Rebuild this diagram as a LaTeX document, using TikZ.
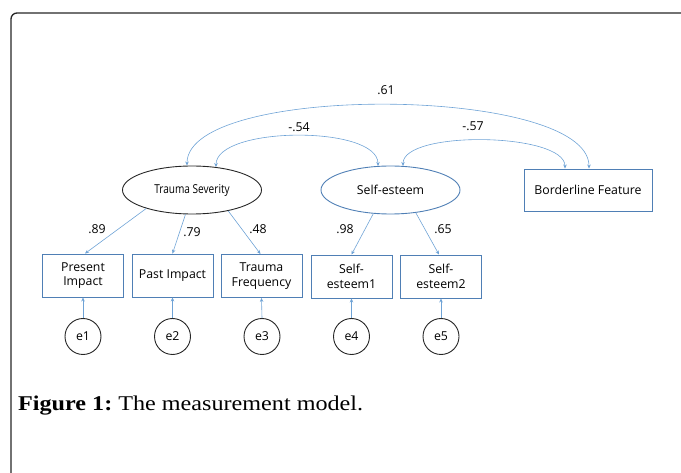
\documentclass[tikz,border=0pt]{standalone}
\usepackage{fontspec}
\setmainfont{Liberation Serif}
\newfontfamily\diag{Open Sans}
\usetikzlibrary{shapes.geometric,arrows.meta}
\definecolor{boxblue}{HTML}{4F7FB5}
\definecolor{arrblue}{HTML}{6FA3D6}
\tikzset{
  obs/.style={draw=boxblue, line width=0.9pt, minimum width=81pt, minimum height=43pt, align=center, font=\diag\fontsize{12.3}{14.5}\selectfont, inner sep=1pt},
  lat/.style={ellipse, line width=0.9pt, minimum width=139pt, minimum height=48pt, font=\diag\fontsize{12.3}{14.5}\selectfont, inner sep=0pt},
  err/.style={circle, draw=black!85, line width=0.9pt, minimum size=36pt, inner sep=0pt, font=\diag\fontsize{12.3}{14.5}\selectfont},
  conn/.style={draw=arrblue, line width=0.6pt, -{Stealth[length=4pt,width=3.5pt]}},
  cov/.style={draw=arrblue, line width=0.6pt, {Stealth[length=4pt,width=3.5pt]}-{Stealth[length=4pt,width=3.5pt]}},
  lbl/.style={font=\diag\fontsize{12.3}{14.5}\selectfont, inner sep=0pt}
}
\begin{document}
\begin{tikzpicture}[x=1pt,y=-1pt]
\useasboundingbox (0,0) rectangle (681,473);
% frame
\draw[line width=1.3pt, black!85, rounded corners=6pt] (11,473) -- (11,13) -- (681,13);
% latent
\node[lat, draw=black!85] (ts) at (192,190) {\scalebox{0.82}[1]{Trauma Severity}};
\node[lat, draw=boxblue] (se) at (390.5,190) {Self-esteem};
\node[obs, minimum width=128pt, minimum height=42pt] (bf) at (588,190) {Borderline Feature};
% observed
\node[obs] (pi) at (83,275.5) {Present\\Impact};
\node[obs] (pa) at (172.5,275.5) {Past Impact};
\node[obs] (tf) at (261.5,276) {Trauma\\Frequency};
\node[obs] (s1) at (351.5,276.5) {Self-\\esteem1};
\node[obs] (s2) at (441,276.5) {Self-\\esteem2};
% errors
\node[err] (e1) at (83,336.5) {e1};
\node[err] (e2) at (172.5,336.5) {e2};
\node[err] (e3) at (262,336.5) {e3};
\node[err] (e4) at (351.5,336.5) {e4};
\node[err] (e5) at (441,336.5) {e5};
% error arrows
\foreach \e/\o in {e1/pi,e2/pa,e3/tf,e4/s1,e5/s2} \draw[conn] (\e.north) -- (\o.south);
% loadings
\draw[conn] (ts.202) -- ([xshift=2pt]pi.north);
\draw[conn] (ts.255) -- (pa.north);
\draw[conn] (ts.330) -- ([xshift=-1pt]tf.north);
\draw[conn] (se.234) -- (s1.north);
\draw[conn] (se.318) -- ([xshift=-2pt]s2.north);
\node[lbl] (l89) at (97,229) {.89};
\node[lbl] (l79) at (192,232) {.79};
\node[lbl] (l48) at (258,229) {.48};
\node[lbl] (l98) at (345,229) {.98};
\node[lbl] (l65) at (443,229) {.65};
% covariances
\draw[cov] ([xshift=-5pt]ts.north) .. controls +(0,-83) and +(0,-83) .. ([xshift=1pt]bf.north);
\draw[cov] ([xshift=24pt,yshift=-1.5pt]ts.north) .. controls +(0,-41) and +(0,-41) .. ([xshift=-12.5pt,yshift=-0.4pt]se.north);
\draw[cov] ([xshift=12.5pt,yshift=-0.4pt]se.north) .. controls +(0,-36) and +(0,-36) .. ([xshift=-23pt]bf.north);
\node[lbl] (l61) at (386,90) {.61};
\node[lbl] (l54) at (299,127) {-.54};
\node[lbl] (l57) at (473,126) {-.57};
% caption
\node[anchor=base west, inner sep=0pt, font=\fontsize{21}{25}\selectfont] (cap) at (18,410) {\frenchspacing\scalebox{1.15}[1]{\textbf{Figure 1:} The measurement model.}};
\end{tikzpicture}
\end{document}
